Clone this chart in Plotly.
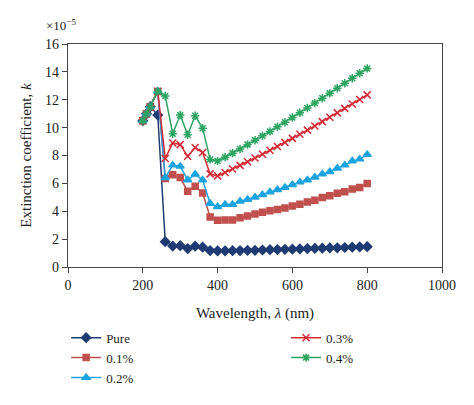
import plotly.graph_objects as go

wavelength = [200, 210, 220, 240, 260, 280, 300, 320, 340, 360, 380,
              400, 420, 440, 460, 480, 500, 520, 540, 560, 580, 600,
              620, 640, 660, 680, 700, 720, 740, 760, 780, 800]

k_pure = [10.5, 11.0, 11.5, 10.9, 1.82, 1.5, 1.53, 1.32, 1.49, 1.42, 1.18,
          1.16, 1.16, 1.17, 1.18, 1.19, 1.2, 1.22, 1.24, 1.25, 1.27, 1.28,
          1.3, 1.32, 1.33, 1.35, 1.37, 1.38, 1.4, 1.42, 1.44, 1.46]
k_01 = [10.5, 11.0, 11.5, 12.6, 6.35, 6.62, 6.42, 5.43, 5.8, 5.31, 3.59,
        3.35, 3.37, 3.37, 3.54, 3.66, 3.8, 3.92, 4.04, 4.13, 4.23, 4.37,
        4.51, 4.67, 4.79, 4.98, 5.12, 5.29, 5.4, 5.59, 5.71, 6.0]
k_02 = [10.5, 11.0, 11.5, 12.6, 6.4, 7.31, 7.22, 6.25, 6.65, 6.25, 4.55,
        4.32, 4.48, 4.48, 4.72, 4.84, 5.0, 5.19, 5.38, 5.55, 5.71, 5.9,
        6.09, 6.25, 6.44, 6.68, 6.84, 7.08, 7.31, 7.6, 7.74, 8.07]
k_03 = [10.5, 11.0, 11.5, 12.6, 7.79, 8.9, 8.78, 7.95, 8.57, 8.21, 6.68,
        6.54, 6.78, 7.03, 7.29, 7.55, 7.82, 8.09, 8.37, 8.65, 8.94, 9.23,
        9.52, 9.82, 10.12, 10.43, 10.74, 11.06, 11.38, 11.7, 12.02, 12.35]
k_04 = [10.5, 11.0, 11.5, 12.6, 12.27, 9.56, 10.9, 9.49, 10.85, 9.96, 7.72,
        7.6, 7.88, 8.17, 8.47, 8.78, 9.09, 9.41, 9.73, 10.06, 10.39, 10.73,
        11.07, 11.41, 11.76, 12.11, 12.46, 12.82, 13.18, 13.54, 13.9, 14.25]

series_names = ["Pure", "0.1%", "0.2%", "0.3%", "0.4%"]
x_ticks = [0, 200, 400, 600, 800, 1000]
y_ticks = [0, 2, 4, 6, 8, 10, 12, 14, 16]

FONT = "Liberation Serif"
W, H = 466, 397  # page body has an 8px margin

styles = [
    dict(color="#1F3B73", symbol="diamond", size=7, legend="legend"),
    dict(color="#C0504D", symbol="square", size=6, legend="legend"),
    dict(color="#1CA3E0", symbol="triangle-up", size=7, legend="legend"),
    dict(color="#D42A35", symbol="x-thin-open", size=7, legend="legend2"),
    dict(color="#2CA462", symbol="asterisk-open", size=7, legend="legend2"),
]

fig = go.Figure()
for name, ys, st in zip(series_names, [k_pure, k_01, k_02, k_03, k_04], styles):
    fig.add_trace(go.Scatter(
        x=wavelength, y=ys, name=name, mode="lines+markers",
        line=dict(color=st["color"], width=1.5),
        marker=dict(symbol=st["symbol"], size=st["size"], color=st["color"],
                    line=dict(color=st["color"], width=1.5)),
        legend=st["legend"],
    ))

axis_common = dict(
    showgrid=False, zeroline=False, showline=True, linecolor="#444",
    linewidth=1.2, mirror=True, ticks="outside", ticklen=5, tickcolor="#444",
    tickfont=dict(family=FONT, size=14, color="#222"),
)

legend_common = dict(yanchor="top", xanchor="left", font=dict(family=FONT, size=13),
                     tracegroupgap=0, itemwidth=30, bgcolor="rgba(0,0,0,0)")

fig.update_layout(
    width=W, height=H,
    margin=dict(l=60, r=32, t=36, b=135),
    paper_bgcolor="white", plot_bgcolor="white",
    font=dict(family=FONT, size=14, color="#222"),
    xaxis=dict(range=[0, 1000], tickvals=x_ticks, automargin=False,
               title=dict(text="Wavelength, <i>λ</i> (nm)",
                          font=dict(family=FONT, size=15)),
               **axis_common),
    yaxis=dict(range=[0, 16], tickvals=y_ticks, automargin=True,
               title=dict(text="Extinction coefficient, <i>k</i>", standoff=9,
                          font=dict(family=FONT, size=15)),
               **axis_common),
    legend=dict(x=-0.005, y=-0.25, **legend_common),
    legend2=dict(x=0.583, y=-0.25, **legend_common),
    showlegend=True,
    annotations=[dict(text="×10<sup>−5</sup>", xref="paper", yref="paper",
                      x=-0.065, y=1.04, xanchor="left", yanchor="bottom",
                      showarrow=False, font=dict(family=FONT, size=13))],
)

fig.write_html("out.html")
